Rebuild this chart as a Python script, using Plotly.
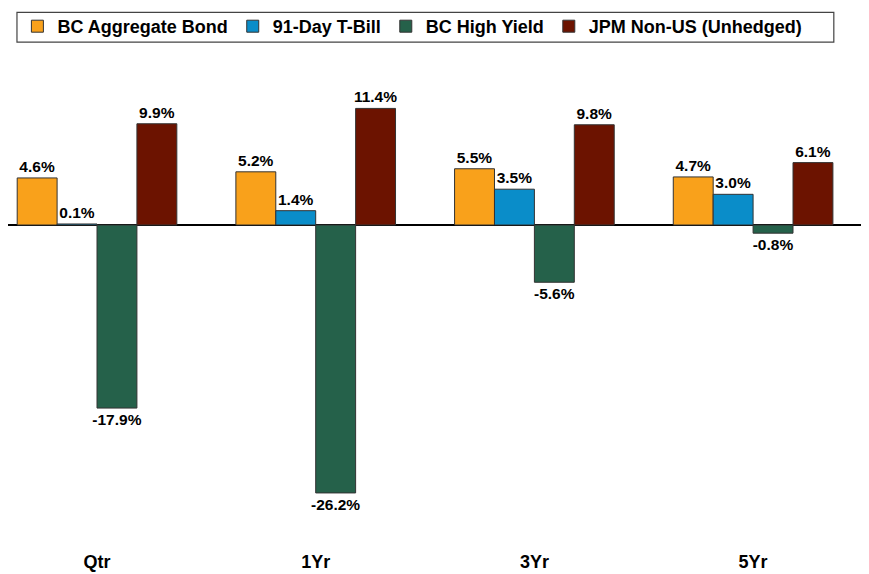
import plotly.graph_objects as go

periods = ["Qtr", "1Yr", "3Yr", "5Yr"]
agg_bond = [4.6, 5.2, 5.5, 4.7]
t_bill = [0.1, 1.4, 3.5, 3.0]
high_yield = [-17.9, -26.2, -5.6, -0.8]
non_us = [9.9, 11.4, 9.8, 6.1]

series = [
    ("BC Aggregate Bond", agg_bond, "#F9A11B"),
    ("91-Day T-Bill", t_bill, "#0A8DC9"),
    ("BC High Yield", high_yield, "#25614A"),
    ("JPM Non-US (Unhedged)", non_us, "#6C1300"),
]

font = "Liberation Sans, Arial, sans-serif"
xs = list(range(len(periods)))

fig = go.Figure()
for name, vals, color in series:
    fig.add_bar(
        x=xs,
        y=vals,
        name=name,
        marker=dict(color=color, line=dict(color="#333333", width=1)),
        text=[f"{v:.1f}%" for v in vals],
        textposition="outside",
        textangle=0,
        constraintext="none",
        textfont=dict(family=font, size=15.5, color="black", weight="bold"),
        cliponaxis=False,
    )

# legend frame (wider than the entries, as in the original)
fig.add_shape(
    type="rect", xref="paper", yref="paper",
    x0=0.0105, x1=0.967, y0=1.043, y1=1.104,
    line=dict(color="#444444", width=1.2), fillcolor="rgba(0,0,0,0)",
)

fig.update_layout(
    width=861,
    height=566,
    barmode="group",
    bargap=0.27,
    bargroupgap=0,
    plot_bgcolor="white",
    paper_bgcolor="white",
    font=dict(family=font, color="black"),
    margin=dict(l=0, r=7, t=52, b=25),
    showlegend=True,
    legend=dict(
        orientation="h",
        x=0.011,
        xanchor="left",
        y=1.076,
        yanchor="middle",
        font=dict(family=font, size=18, color="black", weight="bold"),
        borderwidth=0,
        bgcolor="rgba(0,0,0,0)",
        itemwidth=30,
        traceorder="normal",
    ),
)
fig.update_xaxes(
    tickmode="array",
    tickvals=xs,
    ticktext=periods,
    range=[-0.407, 3.498],
    showgrid=False,
    showline=False,
    ticks="",
    tickfont=dict(family=font, size=18, color="black", weight="bold"),
)
fig.update_yaxes(
    range=[-31.68, 15.84],
    showgrid=False,
    showticklabels=False,
    zeroline=True,
    zerolinecolor="black",
    zerolinewidth=2,
)

fig.write_html("out.html")
